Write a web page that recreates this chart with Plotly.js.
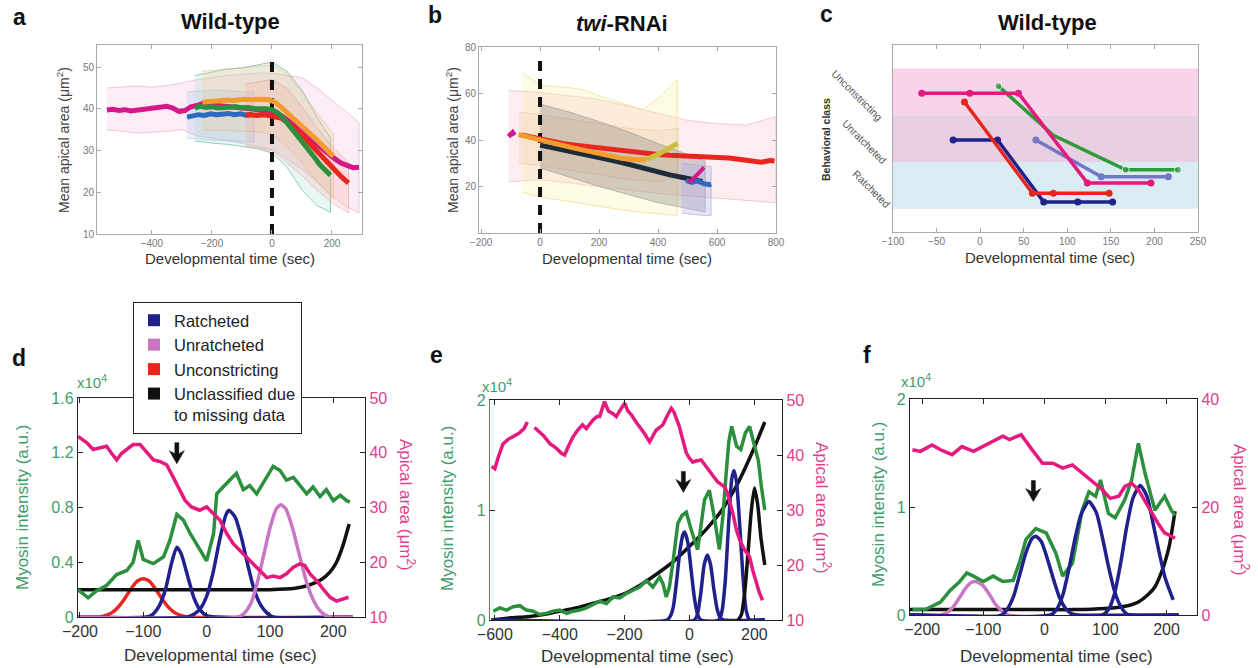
<!DOCTYPE html>
<html><head><meta charset="utf-8">
<script src="https://cdn.plot.ly/plotly-3.0.1.min.js"></script>
<style>html,body{margin:0;padding:0;background:#fff}#chart{width:1258px;height:668px}</style>
</head><body><div id="chart"></div>
<script>
// ================= DATA =================
// ---- Panel a : Wild-type, mean apical area (µm²) vs developmental time (s)
const aOnsetTime = [0, 0];
const aOnsetSpan = [10, 52.8];
const aMagentaTime = [-550,-530,-510,-490,-470,-450,-430,-410,-390,-370,-350,-330,-310,-290,-270,-250,-230,-210,-190,-170,-150,-130,-110,-90,-70,-50,-30,-10,10,30,50,70,90,110,130,150,170,190,210,230,250,270,290];
const aMagentaArea = [39.7,39.9,39.6,39.8,39.5,39.7,39.9,40.0,40.1,40.4,40.6,40.2,39.4,39.6,40.5,40.8,41.3,41.0,40.9,40.8,40.7,40.6,40.4,40.2,40.0,39.8,39.6,39.4,39.0,38.4,37.5,36.4,35.0,33.8,32.6,31.4,30.2,29.0,28.0,27.0,26.4,25.9,26.0];
const aMagentaBandTime = [-550,-500,-450,-400,-350,-300,-250,-200,-150,-100,-50,0,50,100,150,200,250,290];
const aMagentaUpper = [45.0,45.3,45.5,45.2,45.6,46.2,47.0,47.5,48.0,48.3,48.6,48.5,48.0,47.5,45.0,42.0,39.0,36.8];
const aMagentaLower = [35.0,34.6,34.2,34.4,34.6,35.0,33.5,33.0,32.5,31.8,31.0,30.2,28.0,25.5,22.5,19.0,16.5,15.0];
const aBlueTime = [-283,-265,-245,-225,-205,-185,-165,-145,-125,-105,-85,-65];
const aBlueArea = [38.0,38.3,38.6,38.4,38.8,38.6,38.7,38.9,38.6,38.8,38.5,38.7];
const aBlueBandTime = [-283,-200,-120,-60];
const aBlueUpper = [44.0,44.5,44.2,44.0];
const aBlueLower = [33.0,32.5,32.2,32.0];
const aGreenTime = [-257,-240,-220,-200,-180,-160,-140,-120,-100,-80,-60,-40,-20,0,20,40,60,80,100,120,140,160,180,195];
const aGreenArea = [40.2,40.6,40.3,40.5,40.2,40.4,40.3,40.5,40.2,40.3,40.1,40.2,40.0,39.8,39.0,37.6,35.8,34.2,32.5,30.6,28.5,26.6,25.0,24.1];
const aGreenBandTime = [-257,-200,-150,-100,-50,0,50,100,150,195];
const aGreenUpper = [48.0,48.8,49.5,49.8,50.5,51.2,49.0,44.5,38.0,33.0];
const aGreenLower = [32.3,31.8,31.5,31.0,30.5,29.4,26.0,20.5,16.8,15.2];
const aOrangeTime = [-232,-210,-190,-170,-150,-130,-110,-90,-70,-50,-30,-10,10,30,50,70,90,110,130,150,170,190,205];
const aOrangeArea = [41.6,41.8,41.9,42.0,42.1,42.0,42.2,42.3,42.2,42.4,42.3,42.2,41.6,40.4,39.0,37.8,36.4,35.0,33.8,32.5,31.0,29.6,28.6];
const aOrangeBandTime = [-232,-150,-50,0,50,100,150,205];
const aOrangeUpper = [49.0,49.5,50.2,50.5,48.5,44.0,39.0,34.0];
const aOrangeLower = [35.0,34.8,34.5,34.0,31.0,27.0,22.5,18.5];
const aRedTime = [-88,-70,-50,-30,-10,10,30,50,70,90,110,130,150,170,190,210,230,255];
const aRedArea = [38.5,38.6,38.4,38.6,38.4,38.2,37.8,36.8,35.6,34.3,33.0,31.4,29.8,28.2,26.8,25.3,23.8,22.2];
const aRedBandTime = [-88,-40,0,50,100,150,200,255];
const aRedUpper = [46.0,46.5,47.0,45.0,40.5,35.5,31.0,27.0];
const aRedLower = [31.0,30.5,30.0,27.0,24.0,20.5,17.5,15.0];

// ---- Panel b : twi-RNAi
const bOnsetTime = [0, 0];
const bOnsetSpan = [0, 75];
const bMagentaStartTime = [-107,-100,-93,-87];
const bMagentaStartArea = [41.5,42.8,43.2,42.0];
const bRedTime = [-63,-30,0,40,80,120,160,200,240,280,320,360,400,440,480,520,560,600,640,680,720,750,780,795];
const bRedArea = [42.2,41.2,40.4,39.2,38.4,37.8,37.2,36.6,36.0,35.2,34.6,34.0,33.8,33.4,33.2,33.0,32.9,32.6,32.3,31.6,30.6,30.4,31.2,31.0];
const bOrangeTime = [-73,-40,0,40,80,120,160,200,240,280,320,358];
const bOrangeArea = [42.3,41.4,40.2,38.9,37.6,36.4,35.2,34.0,33.0,32.0,31.6,31.5];
const bOliveTime = [358,380,400,420,445,467];
const bOliveArea = [31.5,32.5,33.8,35.2,36.8,38.6];
const bNavyTime = [0,40,80,120,160,200,240,280,320,360,400,440,480,520,550];
const bNavyArea = [37.8,36.8,35.6,34.6,33.6,32.6,31.4,30.2,28.8,27.6,26.4,25.0,24.0,22.8,22.2];
const bBlueTime = [495,515,535,555,575,580];
const bBlueArea = [22.6,21.8,22.4,21.2,20.8,21.0];
const bMagentaEndTime = [503,515,528,540,550,556];
const bMagentaEndArea = [22.0,22.8,24.5,26.0,27.6,28.2];
const bRedBandTime = [-107,-50,0,100,200,300,400,500,600,700,800];
const bRedUpper = [61.3,61.0,60.5,59.0,57.5,54.5,51.5,48.5,47.0,46.5,50.0];
const bRedLower = [22.0,22.5,23.0,21.5,20.0,18.5,17.0,16.0,15.0,14.0,13.0];
const bYellowBandTime = [-60,0,50,100,150,200,250,300,350,400,440,465];
const bYellowUpper = [69.0,63.5,63.0,62.5,61.5,59.0,57.0,55.0,53.0,58.0,63.0,66.0];
const bYellowLower = [17.5,15.5,14.5,13.5,12.5,11.5,10.5,9.5,8.8,8.2,7.8,7.5];
const bOrangeBandTime = [-73,0,100,200,300,400,467];
const bOrangeUpper = [52.0,51.0,49.0,47.0,45.0,44.0,45.0];
const bOrangeLower = [30.0,29.0,27.0,25.0,23.0,22.0,24.0];
const bGrayBandTime = [0,100,200,300,400,500,560];
const bGrayUpper = [55.5,52.0,48.0,43.5,38.5,34.0,31.0];
const bGrayLower = [28.0,24.0,20.0,16.5,13.0,10.5,9.0];
const bLavenderBandTime = [480,520,560,580];
const bLavenderUpper = [30.0,29.5,29.0,28.5];
const bLavenderLower = [8.5,8.0,7.5,7.5];

// ---- Panel c : behavioral class transitions (1 Ratcheted, 2 Unratcheted, 3 Unconstricting)
const cClassNames = ['Ratcheted','Unratcheted','Unconstricting'];
const cClassLevels = [1, 2, 3];
const cPinkTime = [-67,-12,44,123,196];
const cPinkClass = [2.97,2.97,2.97,1.05,1.05];
const cGreenTime = [21,84,167,227];
const cGreenClass = [3.12,2.07,1.33,1.33];
const cSlateTime = [64,139,216];
const cSlateClass = [1.97,1.18,1.18];
const cNavyTime = [-31,20,73,112,152];
const cNavyClass = [1.97,1.97,0.64,0.64,0.64];
const cRedTime = [-18,60,84,148];
const cRedClass = [2.78,0.83,0.83,0.83];

// ---- Panel d : myosin (x10^4 a.u.) and apical area (µm²)
const dMyosinTime = [-203,-187,-174,-158,-142,-126,-116,-108,-100,-84,-68,-58,-47,-37,-26,-11,0,11,16,26,37,47,58,68,79,89,105,116,126,137,147,158,168,179,189,200,211,221,226];
const dMyosin = [0.20,0.14,0.19,0.23,0.31,0.34,0.40,0.56,0.42,0.39,0.44,0.56,0.75,0.71,0.61,0.49,0.41,0.61,0.90,0.95,1.00,1.05,0.93,0.96,0.90,0.98,1.10,1.07,1.00,1.02,0.96,0.90,0.95,0.88,0.93,0.85,0.89,0.85,0.84];
const dAreaTime = [-203,-189,-179,-168,-158,-150,-142,-134,-126,-116,-105,-92,-84,-74,-63,-53,-42,-34,-24,-11,0,11,21,32,42,53,63,74,84,95,105,116,126,137,147,155,163,174,184,195,205,216,224];
const dArea = [43.0,41.8,40.6,40.9,41.2,39.9,38.7,39.9,40.6,41.5,41.5,39.9,38.7,38.4,37.8,35.6,33.2,31.3,30.1,29.5,30.1,28.9,27.7,25.2,23.4,22.1,20.9,19.7,18.5,17.2,17.5,17.2,17.9,19.1,19.7,19.4,17.9,16.6,15.1,13.6,12.9,13.3,13.6];
const dUnconstrictingTime = [-203,-170,-160,-150,-140,-130,-120,-110,-100,-90,-80,-70,-60,-50,-40,-30,230];
const dUnconstricting = [0,0,0.01,0.03,0.07,0.13,0.20,0.26,0.28,0.26,0.20,0.13,0.07,0.03,0.01,0,0];
const dRatchet1Time = [-203,-95,-85,-75,-65,-55,-47,-40,-30,-20,-10,0,230];
const dRatchet1 = [0,0,0.02,0.08,0.2,0.4,0.51,0.46,0.3,0.14,0.05,0.01,0];
const dRatchet2Time = [-203,-30,-20,-10,0,10,20,30,35,45,55,65,75,85,95,105,230];
const dRatchet2 = [0,0,0.02,0.06,0.15,0.32,0.55,0.74,0.78,0.73,0.58,0.38,0.2,0.09,0.03,0,0];
const dUnratchetTime = [-203,50,60,70,80,90,100,110,117,125,135,145,155,165,175,185,195,230];
const dUnratchet = [0,0,0.03,0.1,0.25,0.45,0.65,0.79,0.82,0.79,0.66,0.48,0.3,0.16,0.07,0.02,0,0];
const dUnclassTime = [-203,-150,-100,-50,0,50,100,140,160,180,195,205,215,225];
const dUnclass = [0.20,0.20,0.20,0.20,0.20,0.20,0.20,0.21,0.23,0.27,0.33,0.40,0.52,0.68];
const dArrowPoint = [-47, 1.12];

// ---- Panel e
const eAreaTime = [-610,-600,-590,-575,-560,-545,-525,-510,-500,-490,-478,-465,-450,-431,-410,-395,-385,-374,-359,-345,-330,-318,-305,-297,-285,-277,-262,-250,-236,-226,-210,-200,-190,-179,-165,-154,-140,-123,-113,-103,-92,-82,-70,-56,-48,-31,-21,-10,0,10,20,36,50,62,75,87,100,108,116,123,133,144,155,169,185,195,205,215,225];
const eArea = [37.9,37.5,39.5,42.0,42.8,43.3,44.0,44.8,46.0,null,45.0,44.3,43.5,42.1,41.2,40.3,40.0,41.5,43.3,44.5,45.5,44.8,45.8,46.4,47.0,47.0,49.7,48.0,47.5,47.0,48.5,49.4,48.0,47.3,46.0,45.2,44.0,42.4,43.5,44.5,45.0,45.5,47.0,48.5,47.8,45.1,42.8,40.4,39.4,38.7,38.9,39.1,38.0,36.9,36.0,35.1,34.5,34.2,33.2,31.8,29.5,26.5,24.5,22.8,21.5,19.0,16.7,15.0,13.6];
const eMyosinTime = [-605,-585,-564,-544,-523,-503,-482,-462,-441,-421,-400,-379,-359,-338,-318,-297,-277,-256,-236,-215,-195,-174,-154,-133,-113,-92,-82,-72,-62,-50,-36,-23,-10,5,15,25,35,46,61,76,92,103,112,121,130,145,158,172,185,198,212,222,232];
const eMyosin = [0.08,0.11,0.09,0.12,0.13,0.09,0.08,0.05,0.06,0.08,0.09,0.06,0.08,0.09,0.11,0.14,0.17,0.15,0.21,0.20,0.24,0.27,0.30,0.36,0.30,0.39,0.33,0.21,0.30,0.55,0.88,0.95,0.98,0.82,0.72,0.64,0.85,1.09,1.18,0.94,0.64,0.95,1.30,1.62,1.76,1.58,1.55,1.70,1.76,1.62,1.45,1.20,1.00];
const eRatchet1Time = [-610,-70,-60,-50,-40,-30,-20,-15,-5,5,15,25,35,232];
const eRatchet1 = [0,0,0.03,0.12,0.35,0.62,0.78,0.8,0.7,0.45,0.2,0.05,0,0];
const eRatchet2Time = [-610,15,25,35,45,55,65,75,85,95,105,232];
const eRatchet2 = [0,0,0.06,0.25,0.5,0.59,0.5,0.28,0.1,0.02,0,0];
const eRatchet3Time = [-610,90,100,110,120,130,137,145,155,165,175,185,232];
const eRatchet3 = [0,0,0.08,0.35,0.85,1.28,1.36,1.25,0.85,0.38,0.08,0,0];
const eUnclassPeakTime = [150,160,170,180,190,200,210,220,232];
const eUnclassPeak = [0,0.05,0.25,0.6,0.98,1.2,1.05,0.75,0.5];
const eUnclassTrendTime = [-610,-550,-500,-450,-400,-350,-300,-250,-200,-150,-100,-50,0,50,100,150,200,232];
const eUnclassTrend = [0.0,0.02,0.03,0.05,0.08,0.11,0.15,0.19,0.24,0.32,0.42,0.53,0.67,0.82,1.0,1.25,1.57,1.8];
const eArrowPoint = [-19, 1.16];

// ---- Panel f
const fAreaTime = [-216,-203,-184,-170,-151,-135,-116,-100,-84,-68,-57,-38,-22,-3,14,30,46,62,78,95,108,122,132,143,154,170,186,197,214];
const fArea = [30.6,30.3,31.5,30.6,29.7,31.2,30.3,31.2,32.2,33.1,32.5,33.4,30.9,28.1,28.1,27.2,27.8,26.3,24.7,23.2,21.6,22.0,23.8,24.4,23.2,20.1,17.0,15.2,14.2];
const fMyosinTime = [-216,-195,-170,-154,-140,-127,-116,-100,-84,-68,-51,-40,-30,-14,3,19,30,46,62,73,84,92,105,116,132,143,154,165,181,197,208,214];
const fMyosin = [0.05,0.05,0.12,0.23,0.3,0.39,0.36,0.31,0.36,0.31,0.32,0.5,0.7,0.8,0.76,0.57,0.36,0.48,0.97,1.14,1.1,1.25,0.94,0.9,1.07,1.25,1.59,1.31,0.97,1.1,0.97,0.92];
const fRatchet1Time = [-220,-70,-60,-50,-40,-30,-20,-14,-5,5,15,25,35,45,55,220];
const fRatchet1 = [0,0,0.06,0.18,0.38,0.58,0.71,0.73,0.68,0.52,0.33,0.16,0.06,0.01,0,0];
const fRatchet2Time = [-220,10,20,30,40,50,60,73,85,95,105,115,125,135,145,220];
const fRatchet2 = [0,0,0.05,0.18,0.42,0.7,0.93,1.05,0.95,0.72,0.45,0.22,0.08,0.01,0,0];
const fRatchet3Time = [-220,95,105,115,125,135,145,157,168,178,188,198,211];
const fRatchet3 = [0,0,0.05,0.2,0.48,0.82,1.08,1.2,1.1,0.85,0.58,0.34,0.14];
const fUnratchetTime = [-220,-170,-160,-150,-140,-130,-120,-112,-100,-90,-80,-70,-60,220];
const fUnratchet = [0,0,0.02,0.07,0.15,0.24,0.3,0.31,0.27,0.19,0.1,0.04,0,0];
const fUnclassTime = [-220,-150,-100,-50,0,50,100,120,140,154,170,181,190,197,205,214];
const fUnclass = [0.05,0.05,0.05,0.05,0.05,0.05,0.06,0.07,0.09,0.12,0.19,0.26,0.37,0.48,0.65,0.96];
const fArrowPoint = [-18, 1.05];

const legendNames = ['Ratcheted','Unratcheted','Unconstricting','Unclassified due<br>to missing data'];

// ================= STYLE / BUILD =================
const W = 1258, H = 668;
const FONT = '"Liberation Sans", Arial, Helvetica, sans-serif';
const hx = p => p / W;
const vy = p => 1 - p / H;
const C = {magenta:'#d4178a', blue:'#2a6ac0', green:'#2b8f3e', orange:'#f39b2c', red:'#e8261d',
  navy:'#21218c', orchid:'#c878c2', pink:'#e5197e', black:'#111111', slate:'#7575c6', olive:'#c9c040', dark:'#1d2c38'};
const GREEN_TXT = '#3f9c6a', PINK_TXT = '#e0408c';

const traces = [];
function addLine(x, y, xa, ya, color, width, extra) {
  traces.push(Object.assign({x, y, xaxis: xa, yaxis: ya, type: 'scatter', mode: 'lines',
    line: {color, width}, showlegend: false, hoverinfo: 'skip'}, extra || {}));
}
function addBump(x, y, xa, ya, color, width) {
  addLine(x, y, xa, ya, color, width, {line: {color, width, shape: 'spline', smoothing: 0.6}});
}
function addBand(x, upper, lower, xa, ya, fill, edge) {
  traces.push({x: x.concat(x.slice().reverse()), y: upper.concat(lower.slice().reverse()),
    xaxis: xa, yaxis: ya, type: 'scatter', mode: 'lines', fill: 'toself', fillcolor: fill,
    line: {color: edge, width: 1}, showlegend: false, hoverinfo: 'skip'});
}

// Panel a
addBand(aMagentaBandTime, aMagentaUpper, aMagentaLower, 'x', 'y', 'rgba(240,160,205,0.20)', 'rgba(225,140,185,0.45)');
addBand(aBlueBandTime, aBlueUpper, aBlueLower, 'x', 'y', 'rgba(140,180,235,0.20)', 'rgba(120,160,220,0.35)');
addBand(aGreenBandTime, aGreenUpper, aGreenLower, 'x', 'y', 'rgba(150,220,200,0.22)', 'rgba(90,180,150,0.65)');
addBand(aOrangeBandTime, aOrangeUpper, aOrangeLower, 'x', 'y', 'rgba(250,200,140,0.25)', 'rgba(230,170,110,0.45)');
addBand(aRedBandTime, aRedUpper, aRedLower, 'x', 'y', 'rgba(245,160,150,0.20)', 'rgba(230,130,120,0.40)');
addLine(aOnsetTime, aOnsetSpan, 'x', 'y', C.black, 4, {line: {color: C.black, width: 4, dash: '10px,8px'}});
addLine(aMagentaTime, aMagentaArea, 'x', 'y', C.magenta, 5);
addLine(aBlueTime, aBlueArea, 'x', 'y', C.blue, 5);
addLine(aRedTime, aRedArea, 'x', 'y', C.red, 5);
addLine(aOrangeTime, aOrangeArea, 'x', 'y', C.orange, 5);
addLine(aGreenTime, aGreenArea, 'x', 'y', C.green, 5);

// Panel b
addBand(bRedBandTime, bRedUpper, bRedLower, 'x2', 'y2', 'rgba(245,170,185,0.22)', 'rgba(230,150,165,0.45)');
addBand(bYellowBandTime, bYellowUpper, bYellowLower, 'x2', 'y2', 'rgba(250,240,170,0.30)', 'rgba(240,220,130,0.7)');
addBand(bOrangeBandTime, bOrangeUpper, bOrangeLower, 'x2', 'y2', 'rgba(235,180,130,0.15)', 'rgba(220,170,120,0.3)');
addBand(bGrayBandTime, bGrayUpper, bGrayLower, 'x2', 'y2', 'rgba(110,110,110,0.28)', 'rgba(120,120,120,0.4)');
addBand(bLavenderBandTime, bLavenderUpper, bLavenderLower, 'x2', 'y2', 'rgba(170,170,230,0.30)', 'rgba(150,150,220,0.5)');
addLine(bOnsetTime, bOnsetSpan, 'x2', 'y2', C.black, 4, {line: {color: C.black, width: 4, dash: '10px,8px'}});
addLine(bRedTime, bRedArea, 'x2', 'y2', C.red, 5);
addLine(bNavyTime, bNavyArea, 'x2', 'y2', C.dark, 5);
addLine(bOrangeTime, bOrangeArea, 'x2', 'y2', C.orange, 5);
addLine(bOliveTime, bOliveArea, 'x2', 'y2', C.olive, 5);
addLine(bBlueTime, bBlueArea, 'x2', 'y2', C.blue, 5);
addLine(bMagentaEndTime, bMagentaEndArea, 'x2', 'y2', C.magenta, 4);
addLine(bMagentaStartTime, bMagentaStartArea, 'x2', 'y2', C.magenta, 5);

// Panel c
function addClassPath(x, y, color, sizes) {
  traces.push({x, y, xaxis: 'x3', yaxis: 'y3', type: 'scatter', mode: 'lines+markers',
    line: {color, width: 3.5}, marker: {color, size: sizes || 7}, showlegend: false, hoverinfo: 'skip'});
}
addClassPath(cNavyTime, cNavyClass, C.navy);
addClassPath(cRedTime, cRedClass, C.red);
addClassPath(cSlateTime, cSlateClass, C.slate);
addClassPath(cGreenTime, cGreenClass, '#2f9a3c', [7, 0, 7, 7]);
addClassPath(cPinkTime, cPinkClass, C.pink);

// Panel d
addBump(dUnconstrictingTime, dUnconstricting, 'x4', 'y4', C.red, 3.5);
addBump(dUnclassTime, dUnclass, 'x4', 'y4', C.black, 3.5);
addBump(dRatchet1Time, dRatchet1, 'x4', 'y4', C.navy, 3.5);
addBump(dRatchet2Time, dRatchet2, 'x4', 'y4', C.navy, 3.5);
addBump(dUnratchetTime, dUnratchet, 'x4', 'y4', C.orchid, 3.5);
addLine(dMyosinTime, dMyosin, 'x4', 'y4', C.green, 3.5);
addLine(dAreaTime, dArea, 'x4', 'y5', C.pink, 3.5);

// Panel e
addBump(eUnclassTrendTime, eUnclassTrend, 'x5', 'y6', C.black, 3.5);
addBump(eRatchet1Time, eRatchet1, 'x5', 'y6', C.navy, 3.5);
addBump(eRatchet2Time, eRatchet2, 'x5', 'y6', C.navy, 3.5);
addBump(eRatchet3Time, eRatchet3, 'x5', 'y6', C.navy, 3.5);
addBump(eUnclassPeakTime, eUnclassPeak, 'x5', 'y6', C.black, 3.5);
addLine(eMyosinTime, eMyosin, 'x5', 'y6', C.green, 3.5);
addLine(eAreaTime, eArea, 'x5', 'y7', C.pink, 3.5, {connectgaps: false});

// Panel f
addBump(fUnclassTime, fUnclass, 'x6', 'y8', C.black, 3.5);
addBump(fUnratchetTime, fUnratchet, 'x6', 'y8', C.orchid, 3.5);
addLine(fMyosinTime, fMyosin, 'x6', 'y8', C.green, 3.5);
addBump(fRatchet1Time, fRatchet1, 'x6', 'y8', C.navy, 3.5);
addBump(fRatchet2Time, fRatchet2, 'x6', 'y8', C.navy, 3.5);
addBump(fRatchet3Time, fRatchet3, 'x6', 'y8', C.navy, 3.5);
addLine(fAreaTime, fArea, 'x6', 'y9', C.pink, 3.5);

// Legend entries (panel d)
[C.navy, C.orchid, C.red, C.black].forEach((col, i) => {
  traces.push({x: [null], y: [null], xaxis: 'x4', yaxis: 'y4', type: 'scatter', mode: 'markers',
    marker: {symbol: 'square', size: 12, color: col}, name: legendNames[i], showlegend: true, hoverinfo: 'skip'});
});

// ---------- axes ----------
function topAxis(domain, range, tickvals, anchor, extra) {
  return Object.assign({domain, range, tickvals, anchor, ticks: 'inside', ticklen: 4, tickcolor: '#aaa',
    showline: true, linecolor: '#aaa', linewidth: 1, mirror: 'ticks', showgrid: false, zeroline: false,
    tickfont: {family: FONT, size: 10, color: '#777'}, fixedrange: true}, extra || {});
}
function botX(domain, range, tickvals, anchor) {
  return {domain, range, tickvals, anchor, ticks: 'inside', ticklen: 5, tickcolor: '#222',
    showline: true, linecolor: '#222', linewidth: 1.2, mirror: 'ticks', showgrid: false, zeroline: false,
    tickfont: {family: FONT, size: 16, color: '#333'}};
}
function botYL(domain, range, tickvals, ticktext, anchor, lineColor) {
  return {domain, range, tickvals, ticktext, anchor, side: 'left', ticks: 'inside', ticklen: 5, tickcolor: '#222',
    showline: true, linecolor: lineColor, linewidth: 1.2, showgrid: false, zeroline: false,
    tickfont: {family: FONT, size: 16, color: GREEN_TXT}};
}
function botYR(overlaying, range, tickvals, anchor) {
  return {overlaying, range, tickvals, anchor, side: 'right', ticks: 'inside', ticklen: 5, tickcolor: '#222',
    showline: true, linecolor: '#222', linewidth: 1.2, showgrid: false, zeroline: false,
    tickfont: {family: FONT, size: 16, color: PINK_TXT}};
}

const layout = {
  width: W, height: H, margin: {l: 0, r: 0, t: 0, b: 0},
  paper_bgcolor: '#fff', plot_bgcolor: 'rgba(0,0,0,0)', font: {family: FONT, color: '#222'},
  hovermode: false, showlegend: true,
  legend: {x: hx(133), y: vy(302), xanchor: 'left', yanchor: 'top', bgcolor: '#fff', bordercolor: '#222',
    borderwidth: 1, font: {family: FONT, size: 16.5, color: '#222'}, valign: 'top', tracegroupgap: 0, itemwidth: 30},
  xaxis: topAxis([hx(97), hx(362)], [-583, 300], [-400, -200, 0, 200], 'y'),
  yaxis: topAxis([vy(234), vy(45)], [10, 55.3], [10, 20, 30, 40, 50], 'x'),
  xaxis2: topAxis([hx(479), hx(776)], [-207, 800], [-200, 0, 200, 400, 600, 800], 'y2'),
  yaxis2: topAxis([vy(233), vy(47)], [0, 80], [20, 40, 60, 80], 'x2'),
  xaxis3: topAxis([hx(893), hx(1198)], [-100, 250], [-100, -50, 0, 50, 100, 150, 200, 250], 'y3'),
  yaxis3: topAxis([vy(232), vy(45)], [0, 4], [], 'x3', {showticklabels: false, ticks: '', mirror: true}),
  xaxis4: botX([hx(78), hx(365)], [-203, 250], [-200, -100, 0, 100, 200], 'y4'),
  yaxis4: botYL([vy(617), vy(398)], [0, 1.6], [0, 0.4, 0.8, 1.2, 1.6], ['0', '0.4', '0.8', '1.2', '1.6'], 'x4', '#222'),
  yaxis5: botYR('y4', [10, 50], [10, 20, 30, 40, 50], 'x4'),
  xaxis5: botX([hx(490), hx(782)], [-615, 285], [-600, -400, -200, 0, 200], 'y6'),
  yaxis6: botYL([vy(620), vy(400)], [0, 2], [0, 1, 2], ['0', '1', '2'], 'x5', '#2f9a4a'),
  yaxis7: botYR('y6', [10, 50], [10, 20, 30, 40, 50], 'x5'),
  xaxis6: botX([hx(910), hx(1197)], [-220, 250], [-200, -100, 0, 100, 200], 'y8'),
  yaxis8: botYL([vy(615), vy(399)], [0, 2], [0, 1, 2], ['0', '1', '2'], 'x6', '#222'),
  yaxis9: botYR('y8', [0, 40], [0, 20, 40], 'x6'),
  shapes: [],
  annotations: []
};

// class bands in panel c
const cBandColors = ['#d9ebf3', '#e8cfe1', '#f8d4ea'];
cClassLevels.forEach((lv, i) => {
  layout.shapes.push({type: 'rect', xref: 'x3 domain', yref: 'y3', x0: 0, x1: 1, y0: lv - 0.5, y1: lv + 0.5,
    fillcolor: cBandColors[i], line: {width: 0}, layer: 'below'});
});
// onset arrows (pixel-sized shapes anchored at the arrow tip)
const ARROW_PATH = 'M0,0 L-7.5,13 L-2,10 L-2,21 L2,21 L2,10 L7.5,13 Z';
[[dArrowPoint, 'x4', 'y4'], [eArrowPoint, 'x5', 'y6'], [fArrowPoint, 'x6', 'y8']].forEach(([p, xr, yr]) => {
  layout.shapes.push({type: 'path', xref: xr, yref: yr, xsizemode: 'pixel', ysizemode: 'pixel',
    xanchor: p[0], yanchor: p[1], path: ARROW_PATH, fillcolor: '#111', line: {width: 0.5, color: '#111'}, layer: 'above'});
});

const A = layout.annotations;
function txt(text, xpx, ypx, size, color, extra) {
  A.push(Object.assign({text, x: hx(xpx), y: vy(ypx), xref: 'paper', yref: 'paper', showarrow: false,
    xanchor: 'center', yanchor: 'middle', font: {family: FONT, size, color}}, extra || {}));
}
// panel letters
[['a', 19, 17], ['b', 435, 15], ['c', 826, 14], ['d', 19, 358], ['e', 436, 355], ['f', 867, 355]]
  .forEach(([t, x, y]) => txt('<b>' + t + '</b>', x, y, 23, '#111'));
// titles
txt('<b>Wild-type</b>', 230, 21, 22, '#111');
txt('<b><i>twi</i>-RNAi</b>', 622, 24, 22, '#111');
txt('<b>Wild-type</b>', 1047, 23, 22, '#111');
// top-row axis titles
txt('Developmental time (sec)', 230, 258, 15, '#333');
txt('Developmental time (sec)', 627, 258, 15, '#333');
txt('Developmental time (sec)', 1050, 257, 15, '#333');
txt('Mean apical area (μm<sup>2</sup>)', 63, 140, 14, '#444', {textangle: -90});
txt('Mean apical area (μm<sup>2</sup>)', 452, 140, 14, '#444', {textangle: -90});
txt('<b>Behavioral class</b>', 826, 140, 10.5, '#333', {textangle: -90});
// class labels (panel c)
const cLabelX = [872, 865, 857];
cClassLevels.forEach((lv, i) => {
  A.push({text: cClassNames[i], x: hx(cLabelX[i]), y: lv - 0.07, xref: 'paper', yref: 'y3', showarrow: false,
    textangle: 45, xanchor: 'center', yanchor: 'middle', font: {family: FONT, size: 10.5, color: '#555'}});
});
// bottom-row axis titles
txt('Developmental time (sec)', 220, 655, 17, '#333');
txt('Developmental time (sec)', 637, 656, 17, '#333');
txt('Developmental time (sec)', 1056, 656, 17, '#333');
txt('Myosin intensity (a.u.)', 22, 508, 17, GREEN_TXT, {textangle: -90});
txt('Myosin intensity (a.u.)', 447, 508, 17, GREEN_TXT, {textangle: -90});
txt('Myosin intensity (a.u.)', 878, 505, 17, GREEN_TXT, {textangle: -90});
txt('Apical area (μm<sup>2</sup>)', 407, 505, 17, PINK_TXT, {textangle: 90});
txt('Apical area (μm<sup>2</sup>)', 823, 508, 17, PINK_TXT, {textangle: 90});
txt('Apical area (μm<sup>2</sup>)', 1241, 510, 17, PINK_TXT, {textangle: 90});
txt('x10<sup>4</sup>', 92, 381, 15, GREEN_TXT);
txt('x10<sup>4</sup>', 497, 385, 15, GREEN_TXT);
txt('x10<sup>4</sup>', 916, 380, 15, GREEN_TXT);

Plotly.newPlot('chart', traces, layout, {staticPlot: true, displayModeBar: false});
</script>
</body></html>
